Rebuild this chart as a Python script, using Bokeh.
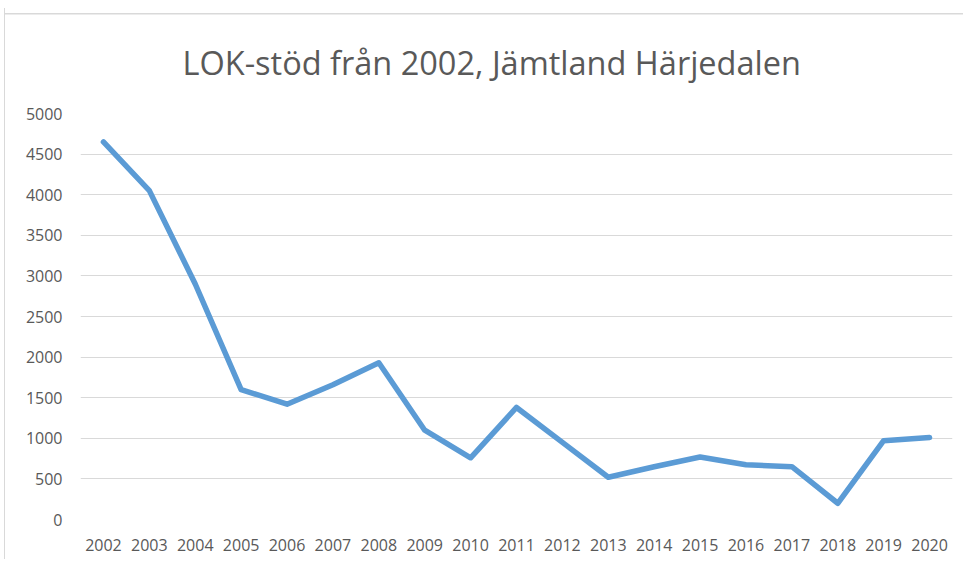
from bokeh.plotting import figure
from bokeh.models import FactorRange, Range1d, SingleIntervalTicker, ColumnDataSource
from bokeh.embed import file_html
from bokeh.resources import INLINE

years = ["2002", "2003", "2004", "2005", "2006", "2007", "2008", "2009", "2010", "2011",
         "2012", "2013", "2014", "2015", "2016", "2017", "2018", "2019", "2020"]
values = [4650, 4050, 2900, 1600, 1420, 1660, 1930, 1100, 760, 1380,
          950, 520, 650, 770, 675, 650, 200, 970, 1010]
y_min, y_max, y_step = 0, 5000, 500
title_text = "LOK-stöd från 2002, Jämtland Härjedalen"

FONT = "Open Sans"
TXT = "#595959"
GRID = "#d9d9d9"

p = figure(width=959, height=551, x_range=FactorRange(*years, range_padding=0),
           y_range=Range1d(y_min, y_max), output_backend="svg", toolbar_location=None,
           min_border_left=75, min_border_right=12, min_border_top=10, min_border_bottom=40)
p.margin = (8, 0, 0, 4)
p.border_fill_color = None
p.background_fill_color = None
p.styles = {
    "border-left": "1.5px solid #d9d9d9",
    "background": "linear-gradient(#d9d9d9, #d9d9d9) 0px 5px / 100% 1.5px no-repeat, white",
}

p.title.text = title_text
p.title.align = "left"
p.title.offset = 102
p.title.text_font = FONT
p.title.text_font_size = "32.5px"
p.title.text_font_style = "normal"
p.title.text_color = TXT
p.title.standoff = 58

src = ColumnDataSource(dict(x=years, y=values))
p.line("x", "y", source=src, line_color="#5B9BD5", line_width=5.5, line_join="round", line_cap="round")

p.outline_line_color = None
p.xgrid.grid_line_color = None
p.ygrid.grid_line_color = GRID
p.ygrid.grid_line_width = 1
p.yaxis.ticker = SingleIntervalTicker(interval=y_step)

for ax in (p.xaxis, p.yaxis):
    ax.axis_line_color = None
    ax.major_tick_line_color = None
    ax.minor_tick_line_color = None
    ax.major_label_text_font = FONT
    ax.major_label_text_font_size = "16px"
    ax.major_label_text_color = TXT
p.yaxis.major_label_standoff = 12
p.xaxis.major_label_standoff = 13

open("out.html", "w").write(file_html(p, INLINE))
